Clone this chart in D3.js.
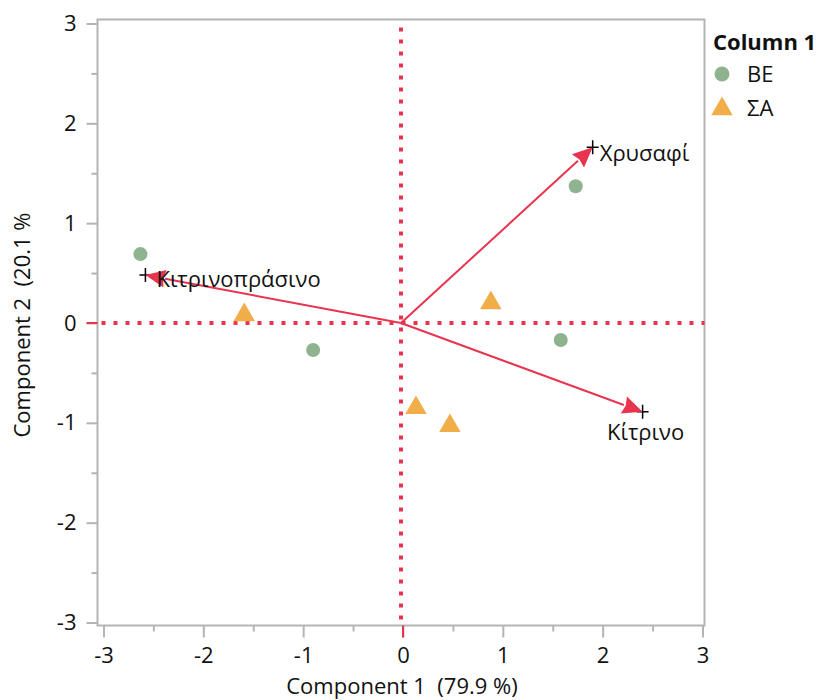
<!DOCTYPE html>
<html>
<head>
<meta charset="utf-8">
<script src="https://cdn.jsdelivr.net/npm/d3@7"></script>
<style>
  body { margin: 0; background: #fff; }
  text { font-family: "Open Sans", "Noto Sans", sans-serif; white-space: pre; }
</style>
</head>
<body>
<div id="viz"></div>
<script>
const domID = "#viz"
const width = 822, height = 700

const colors = {
    frame: "#b4b4b4",
    ref: "#e8344e",
    be: "#8fb38e",
    sa: "#f0ad48",
    text: "#111"
}
const fontSize = "22px"

// scores
const groups = ["BE", "ΣA"]
const beX = [-2.63, -0.90, 1.73, 1.58]
const beY = [0.69, -0.27, 1.37, -0.17]
const saX = [-1.59, 0.88, 0.13, 0.47]
const saY = [0.08, 0.20, -0.85, -1.03]

// loadings
const loadNames = ["Χρυσαφί", "Κίτρινο", "Κιτρινοπράσινο"]
const loadX = [1.90, 2.40, -2.58]
const loadY = [1.76, -0.89, 0.48]

const ticks = [-3, -2, -1, 0, 1, 2, 3]
const minorTicks = [-2.5, -1.5, -0.5, 0.5, 1.5, 2.5]

const svg = d3.select(domID).append("svg")
    .attr("width", width).attr("height", height)

const x = d3.scaleLinear().domain([-3.06, 3.02]).range([97.5, 704.5])
const y = d3.scaleLinear().domain([-3.03, 3.04]).range([625.5, 19.5])

const fmt = d => d < 0 ? "-" + Math.abs(d) : String(d)

// axes
const xAxis = svg.append("g").attr("transform", `translate(0,${y.range()[0]})`)
xAxis.append("g").attr("class", "major")
    .call(d3.axisBottom(x).tickValues(ticks).tickSize(12).tickPadding(10).tickFormat(fmt))
xAxis.append("g").call(d3.axisBottom(x).tickValues(minorTicks).tickSize(6).tickFormat(""))
const yAxis = svg.append("g").attr("transform", `translate(${x.range()[0]},0)`)
yAxis.append("g").attr("class", "major")
    .call(d3.axisLeft(y).tickValues(ticks).tickSize(11).tickPadding(10).tickFormat(fmt))
yAxis.append("g").call(d3.axisLeft(y).tickValues(minorTicks).tickSize(6).tickFormat(""))

svg.selectAll(".domain").remove()
svg.selectAll(".tick line").attr("stroke", colors.frame).attr("stroke-width", 2)
svg.selectAll(".major .tick text").attr("fill", colors.text).style("font-size", fontSize)
    .style("font-family", "'Open Sans', sans-serif")

// frame
svg.append("rect")
    .attr("x", x.range()[0]).attr("y", y.range()[1])
    .attr("width", x.range()[1] - x.range()[0]).attr("height", y.range()[0] - y.range()[1])
    .attr("fill", "none").attr("stroke", colors.frame).attr("stroke-width", 2)

// zero reference lines
svg.append("line")
    .attr("x1", x.range()[0] + 4).attr("x2", x.range()[1])
    .attr("y1", y(0)).attr("y2", y(0))
    .attr("stroke", colors.ref).attr("stroke-width", 4).attr("stroke-dasharray", "4,8")
svg.append("line")
    .attr("x1", x(0) - 2).attr("x2", x(0) - 2)
    .attr("y1", y.range()[1] + 8).attr("y2", y.range()[0])
    .attr("stroke", colors.ref).attr("stroke-width", 4).attr("stroke-dasharray", "4,8")
svg.append("line")
    .attr("x1", x.range()[0] - 11).attr("x2", x.range()[0])
    .attr("y1", y(0)).attr("y2", y(0))
    .attr("stroke", colors.ref).attr("stroke-width", 2)
svg.append("line")
    .attr("x1", x(0)).attr("x2", x(0))
    .attr("y1", y.range()[0]).attr("y2", y.range()[0] + 12)
    .attr("stroke", colors.ref).attr("stroke-width", 2)

// points
const beData = beX.map((d, i) => [d, beY[i]])
const saData = saX.map((d, i) => [d, saY[i]])
svg.append("g").selectAll("circle").data(beData).join("circle")
    .attr("cx", d => x(d[0])).attr("cy", d => y(d[1])).attr("r", 7)
    .attr("fill", colors.be)
const tri = d3.symbol().type(d3.symbolTriangle).size(200)
svg.append("g").selectAll("path").data(saData).join("path")
    .attr("transform", d => `translate(${x(d[0])},${y(d[1])})`)
    .attr("d", tri).attr("fill", colors.sa)

// loading arrows
const loads = loadNames.map((n, i) => ({ name: n, x: loadX[i], y: loadY[i] }))
const ag = svg.append("g")
loads.forEach(l => {
    const x0 = x(0) - 2, y0 = y(0)
    const x1 = x(l.x), y1 = y(l.y)
    const ang = Math.atan2(y1 - y0, x1 - x0)
    const hl = 20, hw = 9
    const bx = x1 - hl * Math.cos(ang), by = y1 - hl * Math.sin(ang)
    // plus marker under the head
    ag.append("path").attr("d", `M${x1 - 6},${y1} H${x1 + 6} M${x1},${y1 - 7} V${y1 + 7}`)
        .attr("stroke", "#000").attr("stroke-width", 1.5)
    ag.append("line").attr("x1", x0).attr("y1", y0).attr("x2", bx).attr("y2", by)
        .attr("stroke", colors.ref).attr("stroke-width", 2)
    const px = -Math.sin(ang) * hw, py = Math.cos(ang) * hw
    ag.append("path")
        .attr("d", `M${x1},${y1} L${bx + px},${by + py} L${bx + hl * 0.1 * Math.cos(ang)},${by + hl * 0.1 * Math.sin(ang)} L${bx - px},${by - py} Z`)
        .attr("fill", colors.ref)
})
const labelPos = {
    "Χρυσαφί": { dx: 7, dy: 14, anchor: "start" },
    "Κίτρινο": { dx: 3, dy: 28, anchor: "middle" },
    "Κιτρινοπράσινο": { dx: 11, dy: 12, anchor: "start" }
}
loads.forEach(l => {
    const p = labelPos[l.name]
    ag.append("text").attr("x", x(l.x) + p.dx).attr("y", y(l.y) + p.dy)
        .attr("text-anchor", p.anchor).attr("fill", colors.text)
        .style("font-size", fontSize).text(l.name)
})

// axis titles
svg.append("text").attr("x", 402).attr("y", 694).attr("text-anchor", "middle")
    .attr("fill", colors.text).style("font-size", fontSize).text("Component 1  (79.9 %)")
svg.append("text").attr("transform", "translate(30,325) rotate(-90)").attr("text-anchor", "middle")
    .attr("fill", colors.text).style("font-size", fontSize).text("Component 2  (20.1 %")

// legend
const lg = svg.append("g").attr("transform", "translate(713,0)")
lg.append("text").attr("x", 0).attr("y", 50).attr("fill", colors.text)
    .style("font-size", fontSize).style("font-weight", "bold").text("Column 1")
lg.append("circle").attr("cx", 9).attr("cy", 74).attr("r", 7.5).attr("fill", colors.be)
lg.append("path").attr("transform", "translate(9,109)").attr("d", tri).attr("fill", colors.sa)
lg.selectAll("text.item").data(groups).join("text").attr("class", "item")
    .attr("x", 34).attr("y", (d, i) => 82 + i * 34).attr("fill", colors.text)
    .style("font-size", fontSize).text(d => d)
</script>
</body>
</html>
